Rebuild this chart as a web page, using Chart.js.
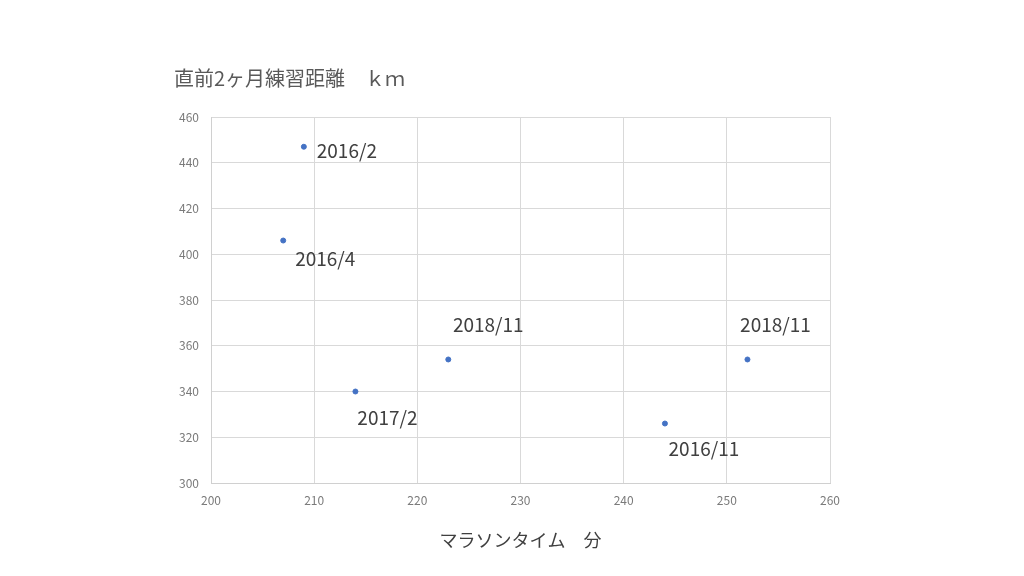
<!DOCTYPE html>
<html><head><meta charset="utf-8">
<script src="https://cdn.jsdelivr.net/npm/chart.js@4"></script>
<style>html,body{margin:0;padding:0;background:#fff}#wrap{width:1024px;height:576px;position:relative}</style>
</head><body><div id="wrap"><canvas id="c" width="1024" height="576"></canvas></div>
<script>
const marathonMinutes = [209, 207, 214, 223, 244, 252];
const distanceKm = [447, 406, 340, 354, 326, 354];
const pointLabels = ['2016/2', '2016/4', '2017/2', '2018/11', '2016/11', '2018/11'];
const xTicks = [200, 210, 220, 230, 240, 250, 260];
const yTicks = [300, 320, 340, 360, 380, 400, 420, 440, 460];
const titleText = '直前2ヶ月練習距離　ｋｍ';
const xTitleText = 'マラソンタイム　分';
// label offsets (style)
const labelOffsets = [[43,4],[42,18],[32,26],[40,-35],[39,25],[28,-35]];

const FONT = "'Noto Sans CJK JP', 'Noto Sans', sans-serif";

const labelPlugin = {
  id: 'pointLabels',
  afterDatasetsDraw(chart) {
    const ctx = chart.ctx;
    const meta = chart.getDatasetMeta(0);
    ctx.save();
    ctx.font = '19px ' + FONT;
    ctx.fillStyle = '#404040';
    ctx.textAlign = 'center';
    ctx.textBaseline = 'middle';
    meta.data.forEach((el, i) => {
      const o = labelOffsets[i];
      ctx.fillText(pointLabels[i], el.x + o[0], el.y + o[1]);
    });
    ctx.restore();
  }
};

new Chart(document.getElementById('c'), {
  type: 'scatter',
  data: {
    datasets: [{
      data: marathonMinutes.map((x, i) => ({x: x, y: distanceKm[i]})),
      backgroundColor: '#4472C4',
      borderColor: '#4472C4',
      pointRadius: 2.5,
      pointHoverRadius: 2.5
    }]
  },
  options: {
    responsive: false,
    animation: false,
    layout: { padding: { left: 174, right: 194, top: 50, bottom: 21 } },
    plugins: {
      legend: { display: false },
      tooltip: { enabled: false },
      title: {
        display: true, text: titleText, align: 'start',
        color: '#595959', font: { family: FONT, size: 20, weight: 'normal' },
        padding: { top: 16, bottom: 27 }
      }
    },
    scales: {
      x: {
        type: 'linear', min: 200, max: 260,
        afterBuildTicks: ax => { ax.ticks = xTicks.map(v => ({value: v})); },
        grid: { color: '#d9d9d9', drawTicks: false },
        border: { color: '#d0d0d0' },
        ticks: { color: '#7a7a7a', font: { family: FONT, size: 12 }, padding: 10 },
        title: { display: true, text: xTitleText, color: '#404040', font: { family: FONT, size: 18 }, padding: { top: 12 } }
      },
      y: {
        type: 'linear', min: 300, max: 460,
        afterBuildTicks: ax => { ax.ticks = yTicks.map(v => ({value: v})); },
        afterFit: ax => { ax.width = 37; },
        grid: { color: '#d9d9d9', drawTicks: false },
        border: { color: '#d0d0d0' },
        ticks: { color: '#7a7a7a', font: { family: FONT, size: 12 }, padding: 12 }
      }
    }
  },
  plugins: [labelPlugin]
});
</script></body></html>
